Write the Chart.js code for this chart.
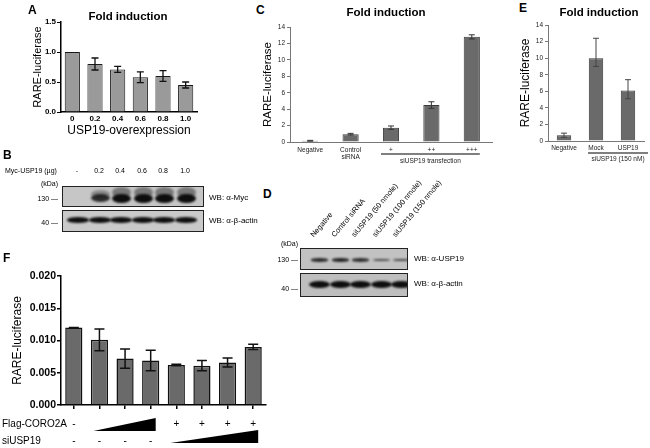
<!DOCTYPE html>
<html>
<head>
<meta charset="utf-8">
<script src="https://cdn.jsdelivr.net/npm/chart.js@4.4.1/dist/chart.umd.min.js"></script>
<style>
  body { margin: 0; background: #fff; }
  #fig { position: relative; width: 650px; height: 448px; overflow: hidden; font-family: "Liberation Sans", Arial, sans-serif; color: #000; }
  #fig canvas { position: absolute; }
  .t { position: absolute; white-space: nowrap; line-height: 1; }
  .letter { font-weight: bold; font-size: 12px; }
  .title { font-weight: bold; font-size: 11.5px; transform: translateX(-50%); }
  .c { transform: translateX(-50%); }
  .s7 { font-size: 7px; }
  .wb { font-size: 8px; }
  .blot { position: absolute; border: 1.5px solid #222; box-sizing: border-box; overflow: hidden; }
  .band { position: absolute; border-radius: 50%; filter: blur(0.8px); }
  .rot { font-size: 7.5px; transform-origin: 0 100%; transform: rotate(-50deg); }
</style>
</head>
<body>
<div id="fig">
  <canvas id="chartA" width="205" height="140" style="left:0;top:0"></canvas>
  <canvas id="chartC" width="250" height="150" style="left:250px;top:20px"></canvas>
  <canvas id="chartE" width="150" height="150" style="left:500px;top:18px"></canvas>
  <canvas id="chartF" width="280" height="188" style="left:0;top:260px"></canvas>

  <div class="t letter" style="left:28px;top:4px">A</div>
  <div class="t letter" style="left:3px;top:149px">B</div>
  <div class="t letter" style="left:256px;top:4px">C</div>
  <div class="t letter" style="left:263px;top:188px">D</div>
  <div class="t letter" style="left:519px;top:2px">E</div>
  <div class="t letter" style="left:3px;top:252px">F</div>

  <div class="t title" style="left:128px;top:11px">Fold induction</div>
  <div class="t title" style="left:386px;top:7px">Fold induction</div>
  <div class="t title" style="left:599px;top:7px">Fold induction</div>

  <!-- B labels -->
  <div class="t s7" style="left:5px;top:167px">Myc-USP19 (µg)</div>
  <div id="bLaneLabels"></div>
  <div class="t s7" style="right:592px;top:180px">(kDa)</div>
  <div class="t s7" style="right:592px;top:195px">130 —</div>
  <div class="t s7" style="right:592px;top:219px">40 —</div>
  <div class="t wb" style="left:209px;top:194px">WB: α-Myc</div>
  <div class="t wb" style="left:209px;top:217px">WB: α-β-actin</div>

  <!-- D labels -->
  <div id="dLaneLabels"></div>
  <div class="t s7" style="right:352px;top:240px">(kDa)</div>
  <div class="t s7" style="right:352px;top:256px">130 —</div>
  <div class="t s7" style="right:352px;top:285px">40 —</div>
  <div class="t wb" style="left:414px;top:255px">WB: α-USP19</div>
  <div class="t wb" style="left:414px;top:280px">WB: α-β-actin</div>
</div>

<script>
// ---- panel A: USP19 overexpression ----
const aLabels = ['0', '0.2', '0.4', '0.6', '0.8', '1.0'];
const aValues = [1.0, 0.8, 0.71, 0.58, 0.6, 0.45];
const aErr = [0, 0.1, 0.05, 0.09, 0.09, 0.05];

// ---- panel C: siUSP19 transfection ----
const cLabels = ['Negative', ['Control', 'siRNA'], '+', '++', '+++'];
const cValues = [0.15, 0.95, 1.75, 4.5, 12.8];
const cErr = [0.05, 0.1, 0.2, 0.4, 0.25];

// ---- panel E: siUSP19 (150 nM) ----
const eLabels = ['Negative', 'Mock', 'USP19'];
const eValues = [0.7, 10.0, 6.1];
const eErrLow = [0.25, 1.0, 1.0];
const eErrHigh = [0.25, 2.4, 1.3];

// ---- panel F: CORO2A / siUSP19 ----
const fCoro = ['-', 'ramp', 'ramp', 'ramp', '+', '+', '+', '+'];
const fSi = ['-', '-', '-', '-', 'ramp', 'ramp', 'ramp', 'ramp'];
const fValues = [0.0120, 0.0101, 0.0072, 0.0069, 0.0062, 0.0061, 0.0066, 0.0090];
const fErr = [0.00003, 0.0017, 0.0015, 0.0016, 0.0001, 0.0008, 0.0007, 0.0004];

// ---- western blots (B, D): lane positions and band strength ----
const bDoses = ['-', '0.2', '0.4', '0.6', '0.8', '1.0'];
const bLanes = [77, 99, 120, 142, 163, 185];
const bMyc = [0, 0.75, 1, 1, 1, 1];
const bActin = [1, 1, 1, 1, 1, 1];
const dNames = ['Negative', 'Control siRNA', 'siUSP19  (50 nmole)', 'siUSP19 (100 nmole)', 'siUSP19 (150 nmole)'];
const dLanes = [318, 339, 359, 380, 400];
const dUsp = [0.8, 0.85, 0.75, 0.5, 0.55];
const dActin = [1, 1, 1, 1, 1];

Chart.defaults.font.family = '"Liberation Sans", Arial, sans-serif';
Chart.defaults.color = '#000';

// force axis sizes so the plot areas land where they do in the figure
const fixW = w => s => { s.width = w; s.paddingTop = s.paddingBottom = s.paddingLeft = s.paddingRight = 0; };
const fixH = h => s => { s.height = h; s.paddingTop = s.paddingBottom = s.paddingLeft = s.paddingRight = 0; };

const errorBars = {
    id: 'errorBars',
    afterDatasetsDraw(chart, args, o) {
        const { ctx, scales: { y } } = chart;
        const vals = chart.data.datasets[0].data;
        ctx.save();
        ctx.strokeStyle = o.color;
        ctx.lineWidth = o.width;
        chart.getDatasetMeta(0).data.forEach((bar, i) => {
            const lo = o.low[i], hi = o.high[i];
            if (!lo && !hi) return;
            const x = bar.x;
            const yt = y.getPixelForValue(vals[i] + hi);
            const yb = y.getPixelForValue(vals[i] - lo);
            ctx.beginPath();
            ctx.moveTo(x, yt); ctx.lineTo(x, yb);
            ctx.moveTo(x - o.cap, yt); ctx.lineTo(x + o.cap, yt);
            ctx.moveTo(x - o.cap, yb); ctx.lineTo(x + o.cap, yb);
            ctx.stroke();
        });
        ctx.restore();
    }
};

function barChart(id, cfg) {
    return new Chart(document.getElementById(id), {
        type: 'bar',
        data: {
            labels: cfg.labels,
            datasets: [{
                data: cfg.values,
                backgroundColor: cfg.fill,
                borderColor: cfg.edge,
                borderWidth: cfg.edgeW,
                barPercentage: cfg.barPct,
                categoryPercentage: 1
            }]
        },
        options: {
            responsive: false,
            animation: false,
            layout: { padding: cfg.padding },
            plugins: {
                legend: { display: false },
                tooltip: { enabled: false },
                errorBars: cfg.err
            },
            scales: { x: cfg.x, y: cfg.y }
        },
        plugins: [errorBars].concat(cfg.extra || [])
    });
}

// A
barChart('chartA', {
    labels: aLabels, values: aValues,
    fill: '#9a9a9a', edge: '#1a1a1a', edgeW: 1, barPct: 0.67,
    padding: { top: 22, right: 8, left: 0, bottom: 0 },
    err: { low: aErr, high: aErr, color: '#111', width: 1.3, cap: 3.5 },
    x: {
        grid: { display: false, drawTicks: false },
        border: { color: '#000', width: 1.5 },
        ticks: { font: { size: 8, weight: 'bold' }, padding: 2 },
        title: { display: true, text: 'USP19-overexpression', font: { size: 12 }, padding: { top: 0, bottom: 2 } },
        afterFit: fixH(28)
    },
    y: {
        min: 0, max: 1.5,
        ticks: { stepSize: 0.5, font: { size: 8, weight: 'bold' }, padding: 1, callback: v => v.toFixed(1) },
        grid: { drawOnChartArea: false, tickLength: 4, color: '#000' },
        border: { color: '#000', width: 1.5 },
        title: { display: true, text: 'RARE-luciferase', font: { size: 11 }, padding: { top: 31, bottom: 0 } },
        afterFit: fixW(61)
    }
});

// C
barChart('chartC', {
    labels: cLabels, values: cValues,
    fill: '#6a6a6a', edge: '#3a3a3a', edgeW: 1, barPct: 0.4,
    padding: { top: 7, right: 8, left: 0, bottom: 0 },
    err: { low: cErr, high: cErr, color: '#333', width: 1, cap: 3 },
    x: {
        grid: { display: false, drawTicks: false },
        border: { color: '#777', width: 1 },
        ticks: { font: { size: 6.5 }, color: '#222', padding: 4, maxRotation: 0 },
        afterFit: fixH(28)
    },
    y: {
        min: 0, max: 14,
        ticks: { stepSize: 2, font: { size: 6.5 }, color: '#222', padding: 2 },
        grid: { drawOnChartArea: false, tickLength: 3, color: '#777' },
        border: { color: '#777', width: 1 },
        title: { display: true, text: 'RARE-luciferase', font: { size: 11.5 }, padding: { top: 11, bottom: 0 } },
        afterFit: fixW(40)
    },
    extra: [{
        id: 'bracketC',
        afterDraw(chart) {
            const { ctx, scales: { x } } = chart;
            const x0 = x.getPixelForValue(2) - 10, x1 = x.getPixelForValue(4) + 8;
            ctx.save();
            ctx.strokeStyle = '#000'; ctx.lineWidth = 1.2;
            ctx.beginPath(); ctx.moveTo(x0, 134); ctx.lineTo(x1, 134); ctx.stroke();
            ctx.font = '6.5px "Liberation Sans", Arial'; ctx.fillStyle = '#222';
            ctx.textAlign = 'center'; ctx.textBaseline = 'middle';
            ctx.fillText('siUSP19 transfection', (x0 + x1) / 2, 141);
            ctx.restore();
        }
    }]
});

// E
barChart('chartE', {
    labels: eLabels, values: eValues,
    fill: '#6a6a6a', edge: '#3a3a3a', edgeW: 1, barPct: 0.45,
    padding: { top: 7, right: 6, left: 0, bottom: 0 },
    err: { low: eErrLow, high: eErrHigh, color: '#444', width: 1, cap: 3 },
    x: {
        grid: { display: false, drawTicks: false },
        border: { color: '#777', width: 1 },
        ticks: { font: { size: 6.5 }, color: '#222', padding: 3, maxRotation: 0 },
        afterFit: fixH(27)
    },
    y: {
        min: 0, max: 14,
        ticks: { stepSize: 2, font: { size: 6.5 }, color: '#222', padding: 2 },
        grid: { drawOnChartArea: false, tickLength: 3, color: '#777' },
        border: { color: '#777', width: 1 },
        title: { display: true, text: 'RARE-luciferase', font: { size: 12 }, padding: { top: 18, bottom: 0 } },
        afterFit: fixW(48)
    },
    extra: [{
        id: 'bracketE',
        afterDraw(chart) {
            const { ctx, scales: { x } } = chart;
            const x0 = x.getPixelForValue(1) - 8, x1 = chart.width - 2;
            ctx.save();
            ctx.strokeStyle = '#000'; ctx.lineWidth = 1.2;
            ctx.beginPath(); ctx.moveTo(x0, 135); ctx.lineTo(x1, 135); ctx.stroke();
            ctx.font = '6.5px "Liberation Sans", Arial'; ctx.fillStyle = '#222';
            ctx.textAlign = 'center'; ctx.textBaseline = 'middle';
            ctx.fillText('siUSP19 (150 nM)', (x0 + x1) / 2, 141);
            ctx.restore();
        }
    }]
});

// F
barChart('chartF', {
    labels: fCoro.map((c, i) => c + '/' + fSi[i]), values: fValues,
    fill: '#6a6a6a', edge: '#111', edgeW: 1.5, barPct: 0.67,
    padding: { top: 16, right: 14, left: 0, bottom: 0 },
    err: { low: fErr, high: fErr, color: '#111', width: 1.5, cap: 5 },
    x: {
        grid: { drawOnChartArea: false, offset: false, tickLength: 4, color: '#000', lineWidth: 1.5 },
        border: { color: '#000', width: 1.5 },
        ticks: { display: false },
        afterFit: fixH(43)
    },
    y: {
        min: 0, max: 0.02,
        ticks: { stepSize: 0.005, font: { size: 10.5, weight: 'bold' }, padding: 1, callback: v => v.toFixed(3) },
        grid: { drawOnChartArea: false, tickLength: 4, color: '#000', lineWidth: 1.5 },
        border: { color: '#000', width: 1.5 },
        title: { display: true, text: 'RARE-luciferase', font: { size: 12 }, padding: { top: 10, bottom: 0 } },
        afterFit: fixW(61)
    },
    extra: [{
        id: 'treatRows',
        afterDraw(chart) {
            const { ctx, scales: { x } } = chart;
            const rows = [
                { name: 'Flag-CORO2A', marks: fCoro, y: 164, base: 171 },
                { name: 'siUSP19', marks: fSi, y: 181, base: 183 }
            ];
            ctx.save();
            ctx.fillStyle = '#000';
            ctx.textBaseline = 'middle';
            rows.forEach(r => {
                ctx.font = '10px "Liberation Sans", Arial';
                ctx.textAlign = 'left';
                ctx.fillText(r.name, 2, r.y);
                ctx.textAlign = 'center';
                const ramp = [];
                r.marks.forEach((m, i) => {
                    if (m === 'ramp') ramp.push(i);
                    else ctx.fillText(m, x.getPixelForValue(i), r.y);
                });
                if (ramp.length) {
                    const xs = x.getPixelForValue(ramp[0]) - 6;
                    const xe = x.getPixelForValue(ramp[ramp.length - 1]) + 5;
                    ctx.beginPath();
                    ctx.moveTo(xs, r.base); ctx.lineTo(xe, r.base); ctx.lineTo(xe, r.base - 13);
                    ctx.closePath(); ctx.fill();
                }
            });
            ctx.restore();
        }
    }]
});

// ---- blots ----
const fig = document.getElementById('fig');
function addBlot(x, y, w, h, bg, lanes, strength, bw, bh, by, smear) {
    const box = document.createElement('div');
    box.className = 'blot';
    Object.assign(box.style, { left: x + 'px', top: y + 'px', width: w + 'px', height: h + 'px', background: bg });
    lanes.forEach((lx, i) => {
        const s = strength[i];
        if (!s) return;
        if (smear) {
            const sm = document.createElement('div');
            sm.className = 'band';
            const sh = bh * 1.2 * s;
            Object.assign(sm.style, {
                left: (lx - x - bw / 2) + 'px', top: (by - sh) + 'px',
                width: bw + 'px', height: sh + 'px', background: 'rgba(40,40,40,' + (0.5 * s) + ')'
            });
            box.appendChild(sm);
        }
        const b = document.createElement('div');
        b.className = 'band';
        const hh = bh * (0.6 + 0.4 * s);
        Object.assign(b.style, {
            left: (lx - x - bw / 2) + 'px', top: (by - hh / 2) + 'px',
            width: bw + 'px', height: hh + 'px', background: 'rgba(10,10,10,' + (0.3 + 0.68 * s) + ')'
        });
        box.appendChild(b);
    });
    fig.appendChild(box);
}
addBlot(62, 186, 142, 21, '#c6c6c6', bLanes, bMyc, 19, 9, 11, true);
addBlot(62, 210, 142, 22, '#c9c9c9', bLanes, bActin, 22, 5.5, 9, false);
addBlot(300, 248, 108, 22, '#c2c2c2', dLanes, dUsp, 17, 3.5, 11, false);
addBlot(300, 273, 108, 24, '#bebebe', dLanes, dActin, 21, 7, 10, false);

// lane labels
const bl = document.getElementById('bLaneLabels');
bDoses.forEach((d, i) => {
    const el = document.createElement('div');
    el.className = 't s7 c';
    el.style.left = bLanes[i] + 'px';
    el.style.top = '167px';
    el.textContent = d;
    bl.appendChild(el);
});
const dl = document.getElementById('dLaneLabels');
dNames.forEach((n, i) => {
    const el = document.createElement('div');
    el.className = 't rot';
    el.style.left = (dLanes[i] - 3) + 'px';
    el.style.top = '231px';
    el.textContent = n;
    dl.appendChild(el);
});
</script>
</body>
</html>
